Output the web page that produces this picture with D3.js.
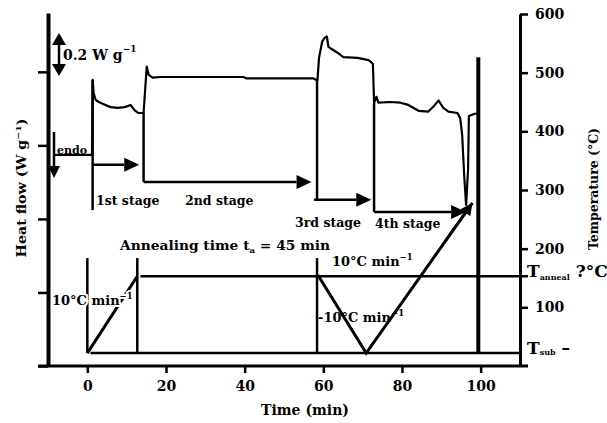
<!DOCTYPE html>
<html><head><meta charset="utf-8">
<script src="https://cdn.jsdelivr.net/npm/d3@7"></script>
<style>
body{margin:0;background:#fff}
text{font-family:"DejaVu Serif",serif;font-weight:bold;fill:#000}
</style>
</head><body><svg id="c" width="607" height="423"></svg>
<script>
// ---- data ----
const timeTicks=[0,20,40,60,80,100];
const tempTicks=[100,200,300,400,500,600];
const flowTicks=[0,1,2,3,4];
// DSC heat flow trace (arbitrary offset units, 1 unit = 1 tick)
const dscTime=[-8.6,1.2,1.35,1.6,2.1,2.9,4.6,5.9,7.7,9.5,11.0,12.0,13.0,14.3,15.1,15.6,16.6,18.6,23.7,39.7,40.5,57.5,58.5,58.9,59.7,60.3,60.9,61.3,62.1,63.6,65.1,68.7,71.5,72.6,72.9,73.5,74.0,77.1,79.6,81.6,84.2,86.7,88.2,89.3,90.5,91.8,94.1,94.8,95.3,95.8,96.3,96.8,97.0,98.5,99.4];
const dscFlow=[2.87,2.87,3.89,3.71,3.62,3.59,3.55,3.52,3.51,3.52,3.55,3.48,3.44,3.44,4.07,3.96,3.92,3.93,3.93,3.93,3.91,3.91,3.88,4.19,4.41,4.46,4.48,4.34,4.31,4.26,4.20,4.19,4.16,4.11,3.58,3.66,3.58,3.59,3.58,3.55,3.47,3.46,3.54,3.61,3.51,3.46,3.44,3.37,3.14,2.60,2.19,2.67,3.40,3.43,3.43];
const endTime=99.4, endFlowTop=4.2, endFlowBottom=0.18;
// temperature program (°C)
const rampTime=[0,12.7], rampTemp=[22,153];
const cycleTime=[58.6,70.9,97.9], cycleTemp=[155,22,278];
const annealTemp=153, subTemp=22;
const markerTimes=[0,12.7,58.4], markerTemp=184;
// stages
const stageNames=["1st stage","2nd stage","3rd stage","4th stage"];
const stageStart=[1.35,14.3,58.4,72.9];
const stageEnd=[13.2,57.0,72.2,96.3];
const stageArrowFlow=[2.735,2.503,2.259,2.095];
const stageTopFlow=[3.89,3.44,3.88,3.58];
const stageBottomFlow=[2.12,2.503,2.259,2.095];

// ---- scales ----
const svg=d3.select("#c");
svg.append("rect").attr("width",607).attr("height",423).attr("fill","#fff");
const x=d3.scaleLinear([-10,110],[48,520]);
const yT=d3.scaleLinear([0,600],[366,14]);
const yH=d3.scaleLinear([0,4.8],[366,13]);

// ---- axes ----
const gx=svg.append("g").attr("transform","translate(0,366)")
  .call(d3.axisBottom(x).tickValues(timeTicks).tickSize(7).tickPadding(8).tickSizeOuter(0));
gx.select(".domain").remove();
svg.append("line").attr("x1",38).attr("x2",528).attr("y1",366).attr("y2",366).attr("stroke","#000").attr("stroke-width",3);
const gl=svg.append("g").attr("transform","translate(48,0)")
  .call(d3.axisLeft(yH).tickValues(flowTicks).tickSize(10).tickFormat("").tickSizeOuter(0));
gl.select(".domain").attr("stroke-width",4);
const gr=svg.append("g").attr("transform","translate(520,0)")
  .call(d3.axisRight(yT).tickValues(tempTicks).tickSize(8).tickPadding(7).tickSizeOuter(0));
gr.select(".domain").attr("stroke-width",3);
svg.selectAll(".tick line").attr("stroke-width",2.5);
svg.selectAll(".tick text").attr("font-size",14).attr("font-family","DejaVu Serif").attr("font-weight","bold");

// axis titles
svg.append("text").attr("x",305).attr("y",415).attr("text-anchor","middle").attr("font-size",14).text("Time (min)");
const hl=svg.append("text").attr("transform","translate(26,188) rotate(-90)").attr("text-anchor","middle")
  .attr("font-size",12).attr("textLength",139).attr("lengthAdjust","spacingAndGlyphs");
hl.append("tspan").text("Heat flow (W g");
hl.append("tspan").attr("font-size",8).attr("dy",-5).text("−1");
hl.append("tspan").attr("dy",5).text(")");
svg.append("text").attr("transform","translate(598,189) rotate(-90)").attr("text-anchor","middle")
  .attr("font-size",12).attr("textLength",122).attr("lengthAdjust","spacingAndGlyphs").text("Temperature (°C)");

// ---- helpers ----
function arrow(x1,y1,x2,y2,len=14,hw=7){
  const dx=x2-x1, dy=y2-y1, L=Math.hypot(dx,dy), ux=dx/L, uy=dy/L;
  const bx=x2-ux*len, by=y2-uy*len;
  svg.append("line").attr("x1",x1).attr("y1",y1).attr("x2",bx).attr("y2",by).attr("stroke","#000").attr("stroke-width",2.5);
  svg.append("path").attr("d",`M${x2},${y2}L${bx-uy*hw},${by+ux*hw}L${bx+uy*hw},${by-ux*hw}Z`).attr("fill","#000");
}
function vline(t,y1,y2,w){
  svg.append("line").attr("x1",x(t)).attr("x2",x(t)).attr("y1",y1).attr("y2",y2).attr("stroke","#000").attr("stroke-width",w);
}

// ---- temperature program ----
const lineT=d3.line().x(d=>x(d[0])).y(d=>yT(d[1]));
svg.append("line").attr("x1",x(0.8)).attr("x2",520).attr("y1",yT(subTemp)).attr("y2",yT(subTemp)).attr("stroke","#000").attr("stroke-width",2.5);
svg.append("line").attr("x1",x(13.5)).attr("x2",528).attr("y1",yT(annealTemp)).attr("y2",yT(annealTemp)).attr("stroke","#000").attr("stroke-width",2.5);
markerTimes.forEach(t=>vline(t,yT(markerTemp),yT(subTemp),2.5));
svg.append("path").attr("d",lineT(rampTime.map((t,i)=>[t,rampTemp[i]]))).attr("fill","none").attr("stroke","#000").attr("stroke-width",3);
svg.append("path").attr("d",lineT(cycleTime.map((t,i)=>[t,cycleTemp[i]]))).attr("fill","none").attr("stroke","#000").attr("stroke-width",3);
{
  const n=cycleTime.length;
  arrow(x(cycleTime[n-2]+20),yT(cycleTemp[n-2]+190),x(cycleTime[n-1]),yT(cycleTemp[n-1]),12,6);
}

// ---- DSC trace ----
const lineH=d3.line().x(d=>x(d[0])).y(d=>yH(d[1]));
svg.append("path").attr("d",lineH(dscTime.map((t,i)=>[t,dscFlow[i]]))).attr("fill","none").attr("stroke","#000").attr("stroke-width",2.2).attr("stroke-linejoin","round");
vline(endTime,yH(endFlowTop),yH(endFlowBottom),4);

// ---- stages ----
stageNames.forEach((s,i)=>{
  vline(stageStart[i],yH(stageTopFlow[i]),yH(stageBottomFlow[i]),2.5);
  arrow(x(stageStart[i])-(i==2?3:0),yH(stageArrowFlow[i]),x(stageEnd[i]),yH(stageArrowFlow[i]),15,7);
});
const stageLabelPos=[[96,205],[185,205],[295,227],[375,228]];
stageNames.forEach((s,i)=>svg.append("text").attr("x",stageLabelPos[i][0]).attr("y",stageLabelPos[i][1]).attr("font-size",12.5).text(s));

// ---- annotations ----
function rate(xp,yp,str,halo){
  const t=svg.append("text").attr("x",xp).attr("y",yp).attr("font-size",13);
  if(halo) t.attr("stroke","#fff").attr("stroke-width",4).attr("paint-order","stroke");
  t.append("tspan").text(str);
  t.append("tspan").attr("font-size",8.5).attr("dy",-6).text("−1");
}
rate(52,305,"10°C min",true);
rate(332,266,"10°C min",false);
rate(318,322,"-10°C min",false);
const an=svg.append("text").attr("x",120).attr("y",250).attr("font-size",13).attr("textLength",210).attr("lengthAdjust","spacingAndGlyphs");
an.append("tspan").text("Annealing time t");
an.append("tspan").attr("font-size",8).attr("dy",3).text("a");
an.append("tspan").attr("dy",-3).text(" = 45 min");

// 0.2 W/g scale arrow
{
  const xa=59, ya1=33, ya2=76;
  svg.append("line").attr("x1",xa).attr("x2",xa).attr("y1",ya1+10).attr("y2",ya2-10).attr("stroke","#000").attr("stroke-width",2.5);
  svg.append("path").attr("d",`M${xa},${ya1}L${xa-7},${ya1+12}L${xa+7},${ya1+12}Z`);
  svg.append("path").attr("d",`M${xa},${ya2}L${xa-7},${ya2-12}L${xa+7},${ya2-12}Z`);
  const t=svg.append("text").attr("x",63).attr("y",60).attr("font-size",14);
  t.append("tspan").text("0.2 W g");
  t.append("tspan").attr("font-size",9).attr("dy",-8).text("−1");
}
// endo arrow
arrow(54,132,54,178,12,6);
svg.append("text").attr("x",57).attr("y",154).attr("font-size",11).text("endo");

// right side labels
{
  const t=svg.append("text").attr("x",527).attr("y",yT(annealTemp)+1).attr("font-size",17).attr("font-family","Liberation Serif");
  t.append("tspan").text("T");
  t.append("tspan").attr("font-size",8).attr("dy",3).text("anneal");
  t.append("tspan").attr("dy",-3).text(" ?°C");
  const s=svg.append("text").attr("x",527).attr("y",yT(subTemp)+1).attr("font-size",17).attr("font-family","Liberation Serif");
  s.append("tspan").text("T");
  s.append("tspan").attr("font-size",8).attr("dy",1).text("sub");
  s.append("tspan").attr("dy",-1).text(" –");
}
</script></body></html>
